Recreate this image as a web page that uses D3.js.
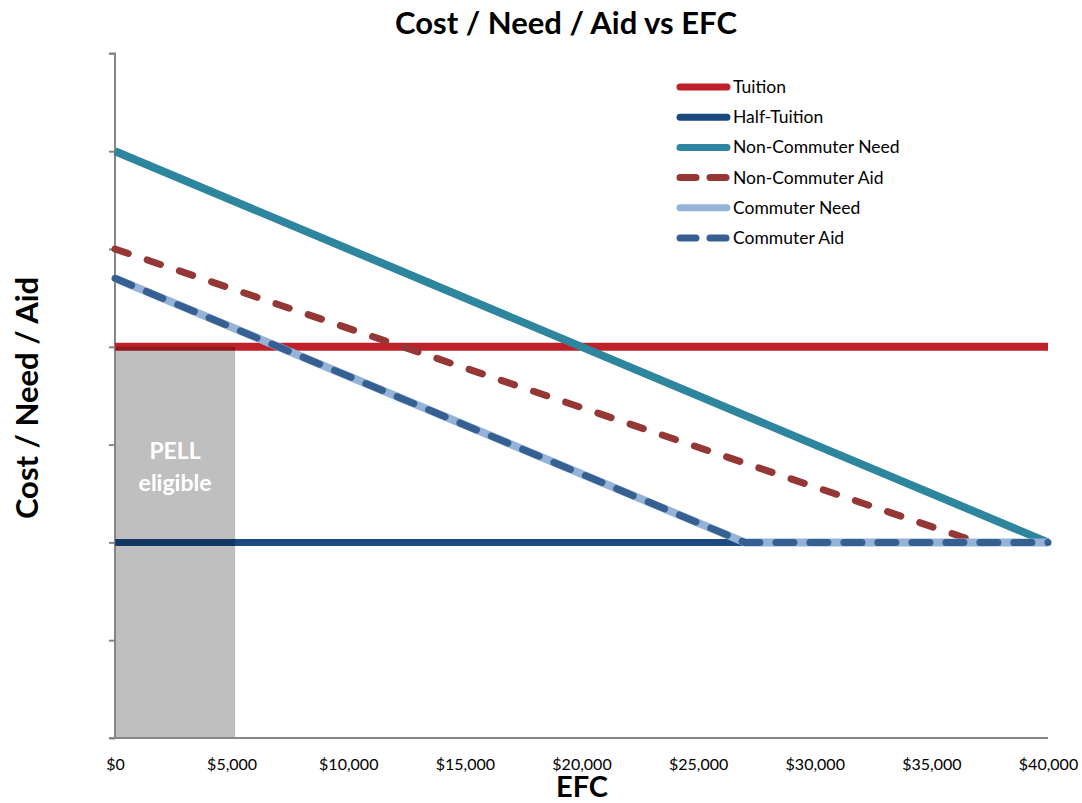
<!DOCTYPE html>
<html><head><meta charset="utf-8">
<script src="https://cdn.jsdelivr.net/npm/d3@7"></script>
<style>body{margin:0;background:#fff}svg{display:block}text{font-family:Lato,"Open Sans",sans-serif}</style>
</head><body><svg id="c" width="1082" height="803"></svg>
<script>
const seriesNames = ["Tuition","Half-Tuition","Non-Commuter Need","Non-Commuter Aid","Commuter Need","Commuter Aid"];
const tuition = [[0,20000],[40000,20000]];
const halfTuition = [[0,10000],[40000,10000]];
const nonCommuterNeed = [[0,30000],[12000,24000],[29000,15500],[40000,10000]];
const nonCommuterAid = [[0,25000],[37000,10000],[40000,10000]];
const commuterNeed = [[0,23500],[27000,10000],[40000,10000]];
const commuterAid = [[0,23500],[27000,10000],[40000,10000]];
const xTicks = [0,5000,10000,15000,20000,25000,30000,35000,40000];
const yTicks = [0,5000,10000,15000,20000,25000,30000,35000];
const pellMax = 5150;

const svg = d3.select("#c");
const x = d3.scaleLinear().domain([0,40000]).range([115,1048]);
const y = d3.scaleLinear().domain([0,35000]).range([738,53.4]);

// axes
const yAxis = svg.append("g").attr("transform","translate(115,0)")
  .call(d3.axisLeft(y).tickValues(yTicks).tickSize(6).tickFormat(""));
yAxis.select(".domain").attr("stroke","#868686").attr("stroke-width",2).attr("d","M-6,53.4H0V738");
yAxis.selectAll(".tick line").attr("stroke","#868686").attr("stroke-width",2);

const xAxis = svg.append("g").attr("transform","translate(0,738)")
  .call(d3.axisBottom(x).tickValues(xTicks).tickSize(0).tickPadding(21)
    .tickFormat(d => "$" + d3.format(",")(d)));
xAxis.select(".domain").attr("stroke","#868686").attr("stroke-width",2).attr("d","M109,0H1048");
xAxis.selectAll(".tick text").attr("font-size",16).attr("fill","#000");

const line = d3.line().x(d=>x(d[0])).y(d=>y(d[1]));
const styles = [
  {data:tuition,color:"#c0202a",w:8,dash:null},
  {data:halfTuition,color:"#1a4a80",w:7,dash:null},
  {data:nonCommuterNeed,color:"#2e869e",w:8,dash:null},
  {data:nonCommuterAid,color:"#953735",w:7,dash:"14 20"},
  {data:commuterNeed,color:"#95b3d7",w:8,dash:null},
  {data:commuterAid,color:"#376092",w:7,dash:"18 16"}
];
styles.forEach(s=>{
  svg.append("path").attr("d",line(s.data)).attr("fill","none")
    .attr("stroke",s.color).attr("stroke-width",s.w)
    .attr("stroke-linecap",s.dash?"round":"butt").attr("stroke-linejoin","round")
    .attr("stroke-dasharray",s.dash);
});

// PELL overlay
svg.append("rect").attr("x",x(0)+1).attr("y",y(20000)).attr("width",x(pellMax)-x(0)-1)
  .attr("height",y(0)-y(20000)-1).attr("fill","#000").attr("fill-opacity",0.25);
svg.append("text").attr("x",(x(0)+x(pellMax))/2).attr("y",459).attr("text-anchor","middle")
  .attr("fill","#fff").attr("font-weight","bold").attr("font-size",23).text("PELL");
svg.append("text").attr("x",(x(0)+x(pellMax))/2).attr("y",491).attr("text-anchor","middle")
  .attr("fill","#fff").attr("font-weight","bold").attr("font-size",23).text("eligible");

// legend
const lg = svg.append("g");
styles.forEach((s,i)=>{
  const yy = 87 + i*30.2;
  lg.append("line").attr("x1",680).attr("x2",727).attr("y1",yy).attr("y2",yy)
    .attr("stroke",s.color).attr("stroke-width",7).attr("stroke-linecap","round")
    .attr("stroke-dasharray",s.dash?"16 14":null);
  lg.append("text").attr("x",733).attr("y",yy+6).attr("font-size",17.5).attr("fill","#000").text(seriesNames[i]);
});

// titles
svg.append("text").attr("x",566).attr("y",34).attr("text-anchor","middle")
  .attr("font-weight","bold").attr("font-size",31).text("Cost / Need / Aid vs EFC");
svg.append("text").attr("transform","translate(38,398) rotate(-90)").attr("text-anchor","middle")
  .attr("font-weight","bold").attr("font-size",31).text("Cost / Need / Aid");
svg.append("text").attr("x",582).attr("y",797).attr("text-anchor","middle")
  .attr("font-weight","bold").attr("font-size",29).text("EFC");
</script></body></html>
